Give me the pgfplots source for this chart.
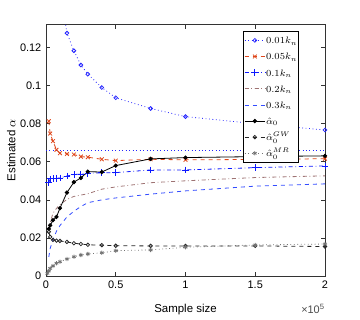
\documentclass[border=0pt]{standalone}
\usepackage{fontspec}
\setmainfont{Liberation Sans}
\usepackage{pgfplots}
\pgfplotsset{compat=1.18}
\definecolor{cA}{rgb}{0.15,0.15,1}
\definecolor{cB}{rgb}{0.87,0.27,0.1}
\definecolor{cC}{rgb}{0.05,0.1,1}
\definecolor{cD}{rgb}{0.62,0.45,0.45}
\definecolor{cE}{rgb}{0.2,0.3,1}
\definecolor{cG}{rgb}{0.45,0.45,0.45}
\begin{document}
\begin{tikzpicture}
\begin{axis}[name=ax,
  width=209.25pt, height=188.5pt, scale only axis,
  xmin=0, xmax=200000, ymin=0, ymax=0.132,
  scaled x ticks=false, scaled y ticks=false,
  xtick={0,50000,100000,150000,200000}, xticklabels={0,0.5,1,1.5,2},
  ytick={0,0.02,0.04,0.06,0.08,0.1,0.12}, yticklabels={0,0.02,0.04,0.06,0.08,0.1,0.12},
  tick align=inside, major tick length=3pt,
  axis line style={black!80}, every tick/.style={black!80},
  tick label style={font=\fontsize{8.2}{10}\selectfont},
  label style={font=\fontsize{8.6}{10}\selectfont},
  /pgf/number format/assume math mode=true,
  xlabel={Sample size}, ylabel={Estimated $\alpha$},
  xlabel style={yshift=-5pt}, ylabel style={yshift=-3.5pt},
  legend style={at={(0.707,0.976)}, anchor=north west, draw=black, fill=white,
    font=\fontsize{7.4}{8}\selectfont, row sep=0pt, column sep=0pt, inner xsep=0.5pt, inner ysep=1pt,
    nodes={inner xsep=0.4pt, inner ysep=0.6pt, text height=8pt, text depth=2.9pt}},
  legend image code/.code={\draw[mark repeat=2,mark phase=2] plot coordinates {(0cm,0cm) (0.27cm,0cm) (0.54cm,0cm)};},
  legend cell align=left,
  every axis plot/.append style={line width=0.6pt},
]
\addplot[cA, dotted, mark=o, mark size=1.4pt, mark options={solid}] coordinates {
(2000,0.35) (3000,0.28) (5000,0.22) (7500,0.175) (10000,0.153) (15000,0.1276) (20000,0.1183) (25000,0.1108) (30000,0.106) (40000,0.099) (50000,0.0936) (75000,0.088) (100000,0.0837) (150000,0.080) (200000,0.0767)};
\addlegendentry{$0.01k_n$}
\addplot[cB, dashed, mark=x, mark size=2pt, mark options={solid}] coordinates {
(2000,0.0813) (3000,0.0748) (5000,0.0708) (7500,0.0663) (10000,0.0645) (15000,0.0641) (20000,0.0638) (25000,0.0627) (30000,0.0624) (40000,0.0613) (50000,0.0606) (75000,0.0613) (100000,0.061) (150000,0.0612) (200000,0.0616)};
\addlegendentry{$0.05k_n$}
\addplot[cC, dash dot, mark=+, mark size=2.5pt, mark options={solid}] coordinates {
(2000,0.049) (3000,0.051) (5000,0.0512) (7500,0.0513) (10000,0.0515) (15000,0.0525) (20000,0.0533) (25000,0.0535) (30000,0.054) (40000,0.0542) (50000,0.0543) (75000,0.0557) (100000,0.0557) (150000,0.0569) (200000,0.0578)};
\addlegendentry{$0.1k_n$}
\addplot[cD, dash dot] coordinates {
(2000,0.025) (3000,0.028) (5000,0.033) (7500,0.0355) (10000,0.0375) (15000,0.0402) (20000,0.0418) (25000,0.0425) (30000,0.0432) (40000,0.0456) (50000,0.0468) (75000,0.049) (100000,0.0500) (150000,0.0517) (200000,0.0526)};
\addlegendentry{$0.2k_n$}
\addplot[cE, dashed] coordinates {
(2000,0.010) (3000,0.0145) (5000,0.019) (7500,0.0235) (10000,0.0265) (15000,0.031) (20000,0.034) (25000,0.0365) (30000,0.0385) (40000,0.040) (50000,0.041) (75000,0.043) (100000,0.0447) (150000,0.0472) (200000,0.0484)};
\addlegendentry{$0.3k_n$}
\addplot[black, solid, mark=*, mark size=1.3pt] coordinates {
(2000,0.0247) (3000,0.0266) (5000,0.0293) (7500,0.031) (10000,0.0356) (15000,0.0438) (20000,0.0493) (25000,0.0515) (30000,0.0548) (40000,0.0546) (50000,0.058) (75000,0.0615) (100000,0.0622) (150000,0.0627) (200000,0.0631)};
\addlegendentry{$\hat{\alpha}_0$}
\addplot[black!85, dashed, mark=o, mark size=1.3pt, mark options={solid}] coordinates {
(2000,0.0232) (3000,0.0205) (5000,0.019) (7500,0.0186) (10000,0.0184) (15000,0.0179) (20000,0.0172) (25000,0.0168) (30000,0.0164) (40000,0.0162) (50000,0.0159) (75000,0.0158) (100000,0.0158) (150000,0.0158) (200000,0.0155)};
\addlegendentry{$\hat{\alpha}_0^{GW}$}
\addplot[cG, dotted, mark=asterisk, mark size=1.6pt, mark options={solid}] coordinates {
(1000,0.0014) (2000,0.0026) (3000,0.004) (5000,0.0053) (7500,0.0067) (10000,0.0075) (15000,0.0089) (20000,0.0101) (25000,0.011) (30000,0.0116) (40000,0.0122) (50000,0.0133) (75000,0.0137) (100000,0.0151) (150000,0.0163) (200000,0.0168)};
\addlegendentry{$\hat{\alpha}_0^{MR}$}
\addplot[cA, dotted, forget plot] coordinates {(0,0.0661) (200000,0.0661)};
\end{axis}
\node[anchor=north east, inner sep=0pt, font=\fontsize{8.2}{10}\selectfont, text=black!70] at ([yshift=-21pt]ax.south east) {×10\textsuperscript{5}};
\path ([shift={(-34.5pt,-32.25pt)}]ax.south west) rectangle ([shift={(26.25pt,18.5pt)}]ax.north east);
\end{tikzpicture}
\end{document}
